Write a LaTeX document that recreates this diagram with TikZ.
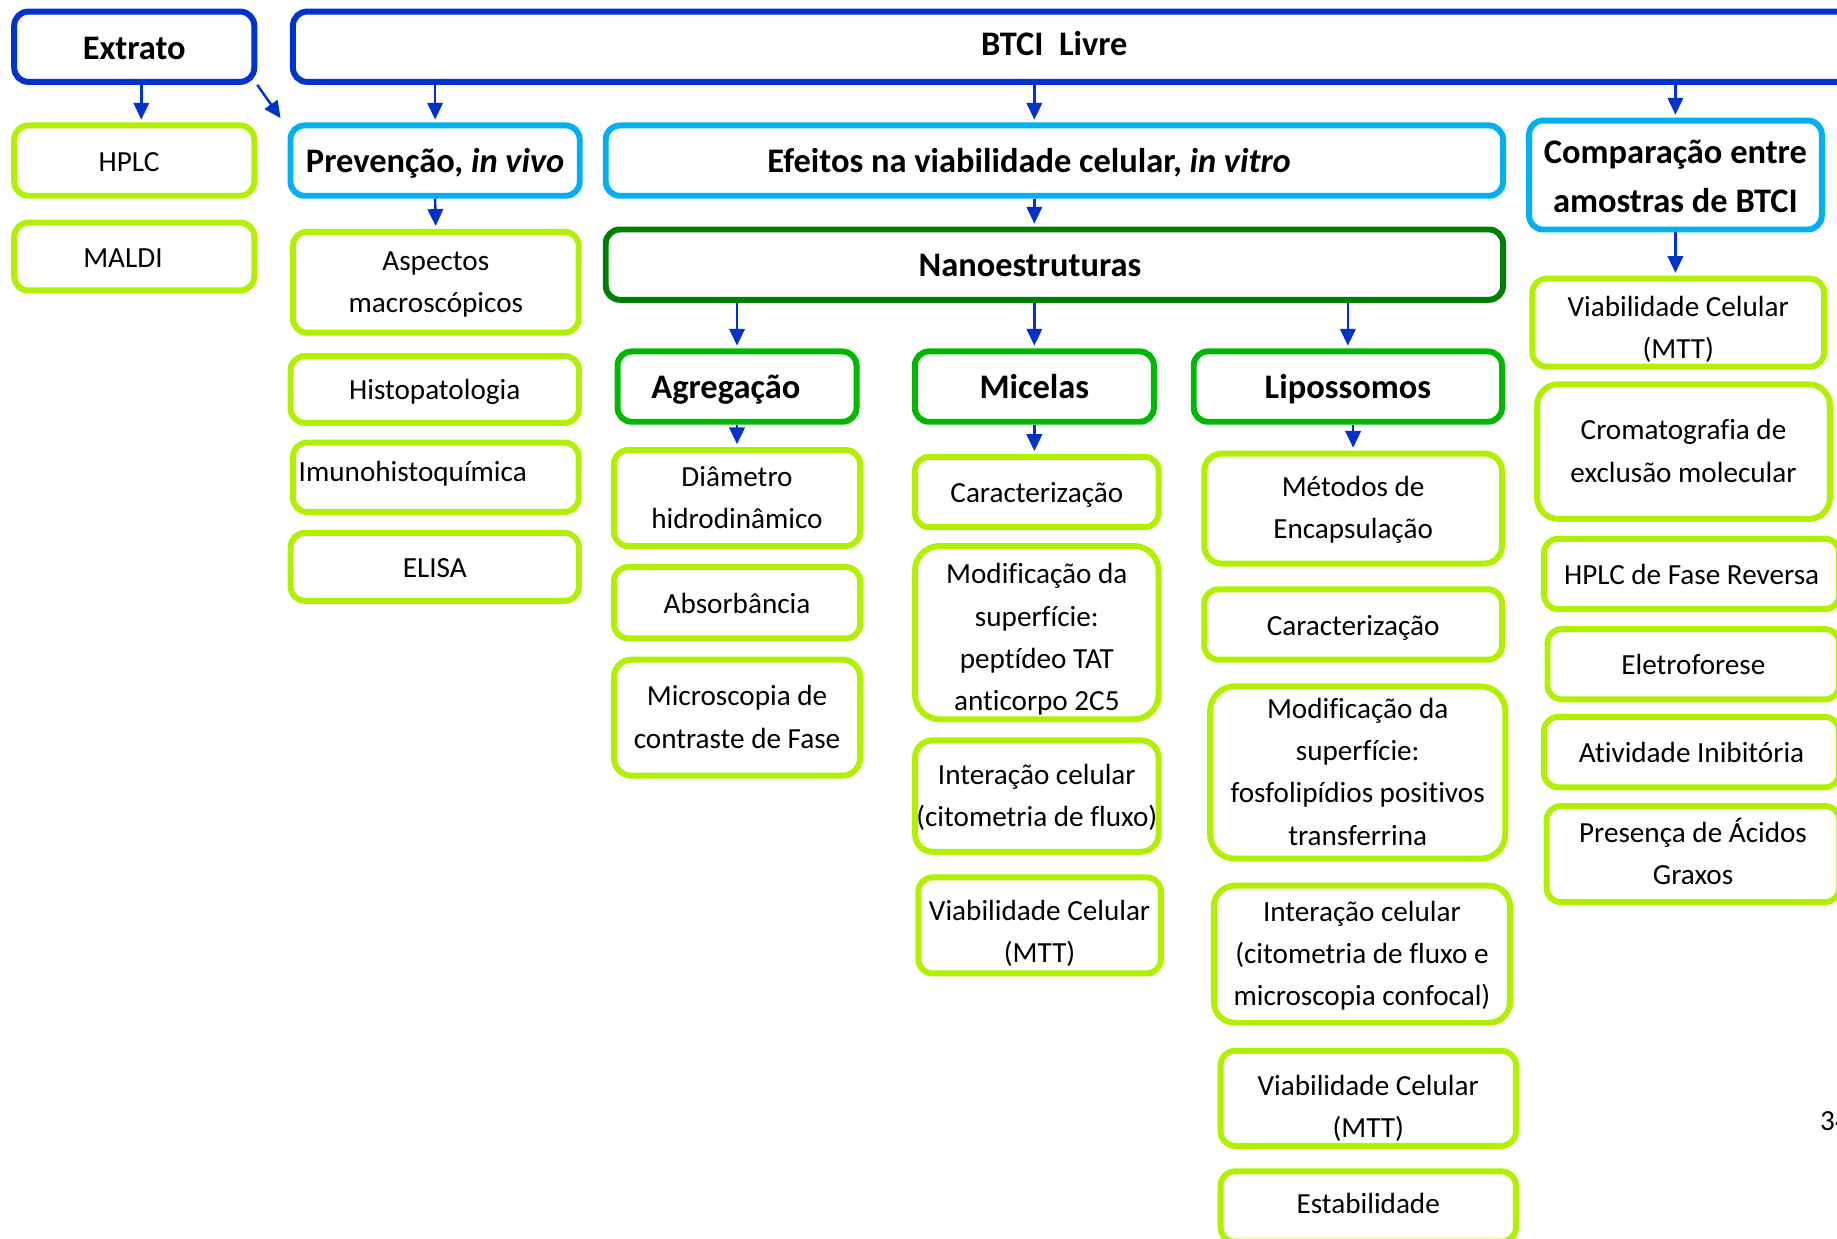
\documentclass[tikz,border=0pt]{standalone}
\usepackage{fontspec}
\setmainfont{Carlito}[Ligatures=NoCommon]
\usetikzlibrary{arrows.meta}

\definecolor{darkblue}{RGB}{0,51,204}
\definecolor{lightblue}{RGB}{0,176,240}
\definecolor{darkgreen}{RGB}{0,128,0}
\definecolor{midgreen}{RGB}{0,184,0}
\definecolor{limegreen}{RGB}{176,240,0}

\begin{document}
\begin{tikzpicture}[x=1pt, y=-1pt,
    box/.style={draw, rounded corners=4pt, line width=1.7pt, fill=white, inner sep=0pt, align=center},
    wh/.style 2 args={minimum width=#1pt, minimum height=#2pt},
    head/.style={box, font=\bfseries\fontsize{9.8}{14}\selectfont, text height=8.5pt, text depth=1.5pt},
    blueone/.style={head, draw=darkblue},
    bluetwo/.style={head, draw=lightblue},
    greenone/.style={head, draw=darkgreen},
    greentwo/.style={head, draw=midgreen},
    item/.style={box, draw=limegreen, font=\fontsize{8.3}{12}\selectfont, text height=7.5pt, text depth=1.5pt},
    two/.style={text height=18.8pt},
    three/.style={text height=30.8pt},
    four/.style={text height=42.8pt},
    lefttext/.style={text width=#1pt, align=flush left},
    arr/.style={draw=darkblue, line width=0.7pt, shorten >=0.8pt, -{Triangle[length=4.8pt,width=4.4pt]}}]

  % Page
  \useasboundingbox (0,0) rectangle (522.67,352.33);
  \clip (0,0) rectangle (522.67,352.33);

  % Top row
  \node[blueone, wh={68.3}{20}] (extrato) at (38.2,13.3) {Extrato};
  \node[blueone, wh={463.3}{20}] (btci) at (315,13.3) {};
  \node[font=\bfseries\fontsize{9.8}{14}\selectfont] (btcitext) at (300,12.3) {BTCI\ \ Livre};

  % Studies
  \node[bluetwo, wh={82.3}{20}] (prev) at (123.8,45.7) {Prevenção, \textit{in vivo}};
  \node[bluetwo, wh={255.3}{20}, lefttext=163.3] (efeitos) at (300,45.7) {Efeitos na viabilidade celular, \textit{in vitro}};
  \node[bluetwo, wh={83.3}{31}, text height=22.8pt] (comp) at (476.7,49.8) {Comparação entre\\amostras de BTCI};
  \node[greenone, wh={255.3}{20}, lefttext=77.3] (nano) at (300,75.3) {Nanoestruturas};
  \node[greentwo, wh={68}{20}, lefttext=48.7] (agreg) at (209.7,110) {Agregação};
  \node[greentwo, wh={68}{20}] (micelas) at (294.3,110) {Micelas};
  \node[greentwo, wh={87.7}{20}] (lipo) at (383.5,110) {Lipossomos};

  % Extrato column
  \node[item, wh={68.3}{20}, lefttext=20.3] (hplc) at (38.2,45.7) {HPLC};
  \node[item, wh={68.3}{19.3}, lefttext=29] (maldi) at (38.2,73) {MALDI};

  % In vivo column
  \node[item, two, wh={81.3}{28.7}] (aspectos) at (124,80.3) {Aspectos\\macroscópicos};
  \node[item, wh={82}{19}] (histo) at (123.7,110.8) {Histopatologia};
  \node[item, wh={81.3}{19.7}, lefttext=78, text depth=5pt] (imuno) at (124,135.8) {Imunohistoquímica};
  \node[item, wh={82}{19.3}] (elisa) at (123.7,161.3) {ELISA};

  % Agregacao column
  \node[item, two, wh={70}{27.3}] (diam) at (209.7,141.7) {Diâmetro\\hidrodinâmico};
  \node[item, wh={70}{20.3}] (absorb) at (209.7,171.5) {Absorbância};
  \node[item, two, wh={70}{33}, rounded corners=5pt] (micro) at (209.7,204.2) {Microscopia de\\contraste de Fase};

  % Micelas column
  \node[item, wh={69.3}{20}] (carmic) at (295,140) {Caracterização};
  \node[item, wh={69.3}{49.3}, rounded corners=7pt, text height=45.8pt] (modmic) at (295,180) {Modificação da\\superfície:\\peptídeo TAT\\anticorpo 2C5};
  \node[item, two, wh={69.3}{31.7}, rounded corners=5pt] (intmic) at (295,226.5) {Interação celular\\(citometria de fluxo)};
  \node[item, wh={69}{27.3}, text height=22.8pt] (viabmic) at (295.8,263.3) {Viabilidade Celular\\(MTT)};

  % Lipossomos column
  \node[item, two, wh={84.7}{31.3}, rounded corners=5pt] (metodos) at (385,144.7) {Métodos de\\Encapsulação};
  \node[item, wh={84.7}{20}] (carlip) at (385,177.7) {Caracterização};
  \node[item, four, wh={84}{49}, rounded corners=7pt] (modlip) at (386.3,219.8) {Modificação da\\superfície:\\fosfolipídios positivos\\transferrina};
  \node[item, three, wh={84.3}{39}, rounded corners=6pt] (intlip) at (387.5,271.5) {Interação celular\\(citometria de fluxo e\\microscopia confocal)};
  \node[item, wh={84}{27}, text height=23.8pt] (viablip) at (389.3,312.5) {Viabilidade Celular\\(MTT)};
  \node[item, wh={84}{20}, text height=5.5pt] (estab) at (389.3,343.3) {Estabilidade};

  % Comparacao column
  \node[item, wh={83}{25}, text height=21.8pt] (viabcomp) at (477.5,91.8) {Viabilidade Celular\\(MTT)};
  \node[item, two, wh={83.3}{38.3}, rounded corners=6pt] (croma) at (479,128.5) {Cromatografia de\\exclusão molecular};
  \node[item, wh={84}{20}] (hplcfr) at (481.3,163.3) {HPLC de Fase Reversa};
  \node[item, wh={83}{20}] (eletro) at (481.8,189) {Eletroforese};
  \node[item, wh={84}{20}] (ativ) at (481.3,214) {Atividade Inibitória};
  \node[item, two, wh={83.3}{27.3}] (presenca) at (481.7,243) {Presença de Ácidos\\Graxos};

  % Page number
  \node[anchor=west, inner sep=0pt, font=\fontsize{8.3}{12}\selectfont] (pagina) at (517.7,319) {34};

  % Arrows
  \coordinate (diagtip) at (80.3,34.3);
  \draw[arr] ([xshift=2pt]extrato.south) -- ([xshift=2pt]hplc.north);
  \draw[arr] (extrato.south east) -- (diagtip);
  \draw[arr] (btci.south -| prev.north) -- (prev.north);
  \draw[arr] (btci.south -| micelas.north) -- (efeitos.north -| micelas.north);
  \draw[arr] (btci.south -| comp.north) -- (comp.north);
  \draw[arr] (prev.south) -- (aspectos.north);
  \draw[arr] (efeitos.south -| micelas.north) -- (nano.north -| micelas.north);
  \draw[arr] (nano.south -| agreg.north) -- (agreg.north);
  \draw[arr] (nano.south -| micelas.north) -- (micelas.north);
  \draw[arr] (nano.south -| lipo.north) -- (lipo.north);
  \draw[arr] (agreg.south) -- (diam.north);
  \draw[arr] (micelas.south) -- (micelas.south |- carmic.north);
  \draw[arr] (lipo.south -| metodos.north) -- (metodos.north);
  \draw[arr] (comp.south) -- (comp.south |- viabcomp.north);
\end{tikzpicture}
\end{document}
